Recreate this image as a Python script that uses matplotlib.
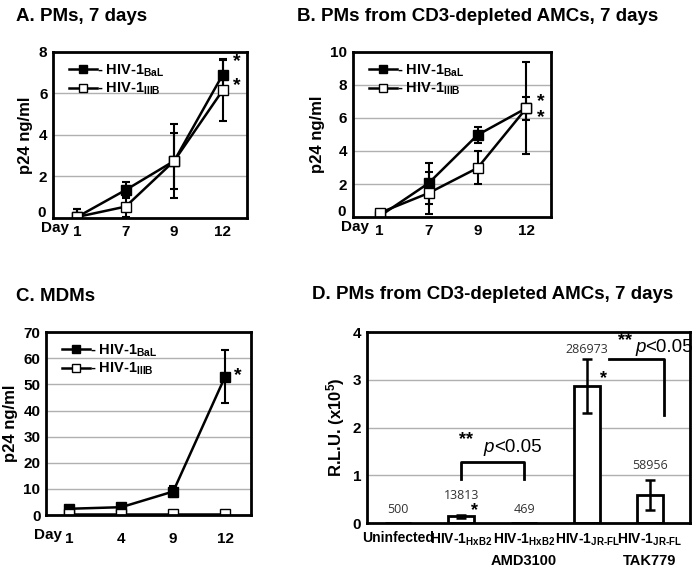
import matplotlib
matplotlib.use("Agg")
import matplotlib.pyplot as plt
from matplotlib.lines import Line2D
import numpy as np

plt.rcParams['font.family'] = ['Liberation Sans', 'DejaVu Sans']
plt.rcParams['font.weight'] = 'bold'
plt.rcParams['mathtext.fontset'] = 'custom'
plt.rcParams['mathtext.rm'] = 'Liberation Sans:bold'
plt.rcParams['mathtext.it'] = 'Liberation Sans:italic'
plt.rcParams['mathtext.bf'] = 'Liberation Sans:bold'

# ---------------- data ----------------
days_a = ["1", "7", "9", "12"]
a_bal = [0.05, 1.35, 2.75, 6.9]
a_bal_err = [0.4, 0.4, 1.33, 0.7]
a_iiib = [0.05, 0.55, 2.75, 6.15]
a_iiib_err = [0.4, 0.5, 1.8, 1.5]

days_b = ["1", "7", "9", "12"]
b_bal = [0.05, 2.05, 4.97, 6.6]
b_bal_err = [0.1, 1.25, 0.5, 0.7]
b_iiib = [0.25, 1.45, 2.97, 6.6]
b_iiib_err = [0.1, 1.25, 1.0, 2.8]

days_c = ["1", "4", "9", "12"]
c_bal = [2.4, 3.0, 9.0, 53.0]
c_bal_err = [0.5, 0.5, 2.0, 10.0]
c_iiib = [0.4, 0.4, 0.4, 0.4]
c_iiib_err = [0.2, 0.2, 0.2, 0.2]

d_labels = ["Uninfected", r"HIV-1$_{\mathregular{HxB2}}$", r"HIV-1$_{\mathregular{HxB2}}$",
            r"HIV-1$_{\mathregular{JR\text{-}FL}}$", r"HIV-1$_{\mathregular{JR\text{-}FL}}$"]
d_rlu = [500, 13813, 469, 286973, 58956]
d_err = [0, 3000, 0, 56000, 31000]
d_treat = ["", "", "AMD3100", "", "TAK779"]

lbl_bal = r"- HIV-1$_{\mathregular{BaL}}$"
lbl_iiib = r"- HIV-1$_{\mathregular{IIIB}}$"

fig = plt.figure(figsize=(7, 5.75), dpi=100)
TITLE_FS = 13.5


def style_ax(ax, ymax, ystep, hide_zero=False):
    for s in ax.spines.values():
        s.set_linewidth(2)
        s.set_color('black')
    ax.set_ylim(0, ymax)
    ticks = np.arange(0, ymax + 0.001, ystep)
    ax.set_yticks(ticks)
    labels = [f"{t:g}" for t in ticks]
    if hide_zero:
        labels[0] = ""
    ax.set_yticklabels(labels)
    ax.yaxis.grid(True, color='#b0b0b0', linewidth=1)
    ax.set_axisbelow(True)
    ax.tick_params(axis='both', length=0, labelsize=11, pad=4)
    for t in ax.get_yticklabels() + ax.get_xticklabels():
        t.set_fontweight('bold')


def line_panel(ax, days, bal, bal_err, iiib, iiib_err, ymax, ystep, xlim,
               raised_zero, xpad, day_y):
    x = np.arange(len(days))
    kw = dict(color='black', marker='s', ms=6.5, mec='black', lw=1.8, capsize=2.8,
              elinewidth=1.5, capthick=1.5)
    ax.errorbar(x, bal, yerr=bal_err, mfc='black', **kw)
    ax.errorbar(x, iiib, yerr=iiib_err, mfc='white', **kw)
    style_ax(ax, ymax, ystep, hide_zero=raised_zero)
    if raised_zero:
        ax.text(-0.035, 0.03, "0", transform=ax.transAxes, ha='right', va='center',
                fontsize=11, fontweight='bold')
    ax.set_xlim(*xlim)
    ax.set_xticks(x)
    ax.set_xticklabels(days)
    ax.tick_params(axis='x', pad=xpad)
    ax.set_ylabel("p24 ng/ml", fontsize=12, fontweight='bold', labelpad=4)
    ax.text(-0.06, day_y, "Day", transform=ax.transAxes, fontsize=11, fontweight='bold',
            ha='left', va='center')
    handles = [Line2D([], [], color='black', marker='s', ms=6, mfc='black', mec='black', lw=1.8),
               Line2D([], [], color='black', marker='s', ms=6, mfc='white', mec='black', lw=1.8)]
    ax.legend(handles, [lbl_bal, lbl_iiib], loc='upper left', frameon=False, fontsize=10.5,
              handlelength=1.9, handletextpad=0.0, borderaxespad=0.3, labelspacing=0.15,
              bbox_to_anchor=(0.03, 1.0))


# Panel A
axA = fig.add_axes([0.0757, 0.6209, 0.277, 0.2887])
line_panel(axA, days_a, a_bal, a_bal_err, a_iiib, a_iiib_err, 8, 2, (-0.5, 3.5),
           True, 5, -0.06)
axA.text(3.3, 7.55, "*", fontsize=14, ha='center', va='center')
axA.text(3.3, 6.4, "*", fontsize=14, ha='center', va='center')
fig.text(0.023, 0.971, "A. PMs, 7 days", fontsize=TITLE_FS, fontweight='bold', va='center')

# Panel B
axB = fig.add_axes([0.504, 0.6226, 0.283, 0.287])
line_panel(axB, days_b, b_bal, b_bal_err, b_iiib, b_iiib_err, 10, 2, (-0.55, 3.5),
           True, 5, -0.06)
axB.text(3.3, 7.0, "*", fontsize=14, ha='center', va='center')
axB.text(3.3, 6.0, "*", fontsize=14, ha='center', va='center')
fig.text(0.424, 0.971, "B. PMs from CD3-depleted AMCs, 7 days", fontsize=TITLE_FS,
         fontweight='bold', va='center')

# Panel C
axC = fig.add_axes([0.0657, 0.1043, 0.293, 0.318])
line_panel(axC, days_c, c_bal, c_bal_err, c_iiib, c_iiib_err, 70, 10, (-0.45, 3.5),
           False, 12, -0.11)
axC.text(3.25, 53.5, "*", fontsize=14, ha='center', va='center')
fig.text(0.023, 0.4835, "C. MDMs", fontsize=TITLE_FS, fontweight='bold', va='center')

# Panel D
axD = fig.add_axes([0.524, 0.0904, 0.461, 0.332])
xd = np.arange(len(d_rlu))
vals = np.array(d_rlu) / 1e5
errs = np.array(d_err) / 1e5
axD.bar(xd, vals, width=0.42, color='white', edgecolor='black', linewidth=2, zorder=2)
axD.errorbar(xd[[1, 3, 4]], vals[[1, 3, 4]], yerr=errs[[1, 3, 4]], fmt='none', ecolor='black',
             elinewidth=1.8, capsize=3.6, capthick=1.8, zorder=3)
style_ax(axD, 4, 1)
axD.set_xlim(-0.5, 4.63)
axD.set_xticks(xd)
axD.set_xticklabels(d_labels, fontsize=10, fontweight='bold')
axD.tick_params(axis='x', pad=6)
axD.set_ylabel(r"R.L.U. (x10$^{\mathregular{5}}$)", fontsize=12, fontweight='bold', labelpad=4)
for xi, t in zip(xd, d_treat):
    if t:
        axD.text(xi, -0.2, t, transform=axD.get_xaxis_transform(), ha='center',
                 va='center', fontsize=10.5, fontweight='bold')
num_y = [0.29, 0.57, 0.29, 3.63, 1.2]
for xi, v, ny in zip(xd, d_rlu, num_y):
    axD.text(xi, ny, str(v), ha='center', va='center', fontsize=9,
             family=['Open Sans', 'DejaVu Sans'], fontweight='normal', color='#333333')
axD.text(1.22, 0.27, "*", fontsize=13, ha='center', va='center')
axD.text(3.27, 3.03, "*", fontsize=13, ha='center', va='center')


def pval(ax, x, y):
    ax.text(x, y, "p", fontsize=13.5, fontstyle='italic', fontweight='normal',
            ha='right', va='center', clip_on=False)
    ax.text(x, y, "<0.05", fontsize=13.5, fontweight='normal', ha='left', va='center',
            clip_on=False)


# bracket 1
axD.plot([1.0, 1.0, 2.0, 2.0], [0.92, 1.27, 1.27, 0.92], color='black', lw=2)
axD.text(1.08, 1.75, "**", fontsize=13, ha='center', va='center')
pval(axD, 1.52, 1.58)
# bracket 2
axD.plot([3.35, 4.22, 4.22], [3.44, 3.44, 2.27], color='black', lw=2)
axD.text(3.6, 3.82, "**", fontsize=13, ha='center', va='center')
pval(axD, 3.93, 3.67)
fig.text(0.445, 0.487, "D. PMs from CD3-depleted AMCs, 7 days", fontsize=TITLE_FS,
         fontweight='bold', va='center')

fig.savefig("out.png", dpi=100)
